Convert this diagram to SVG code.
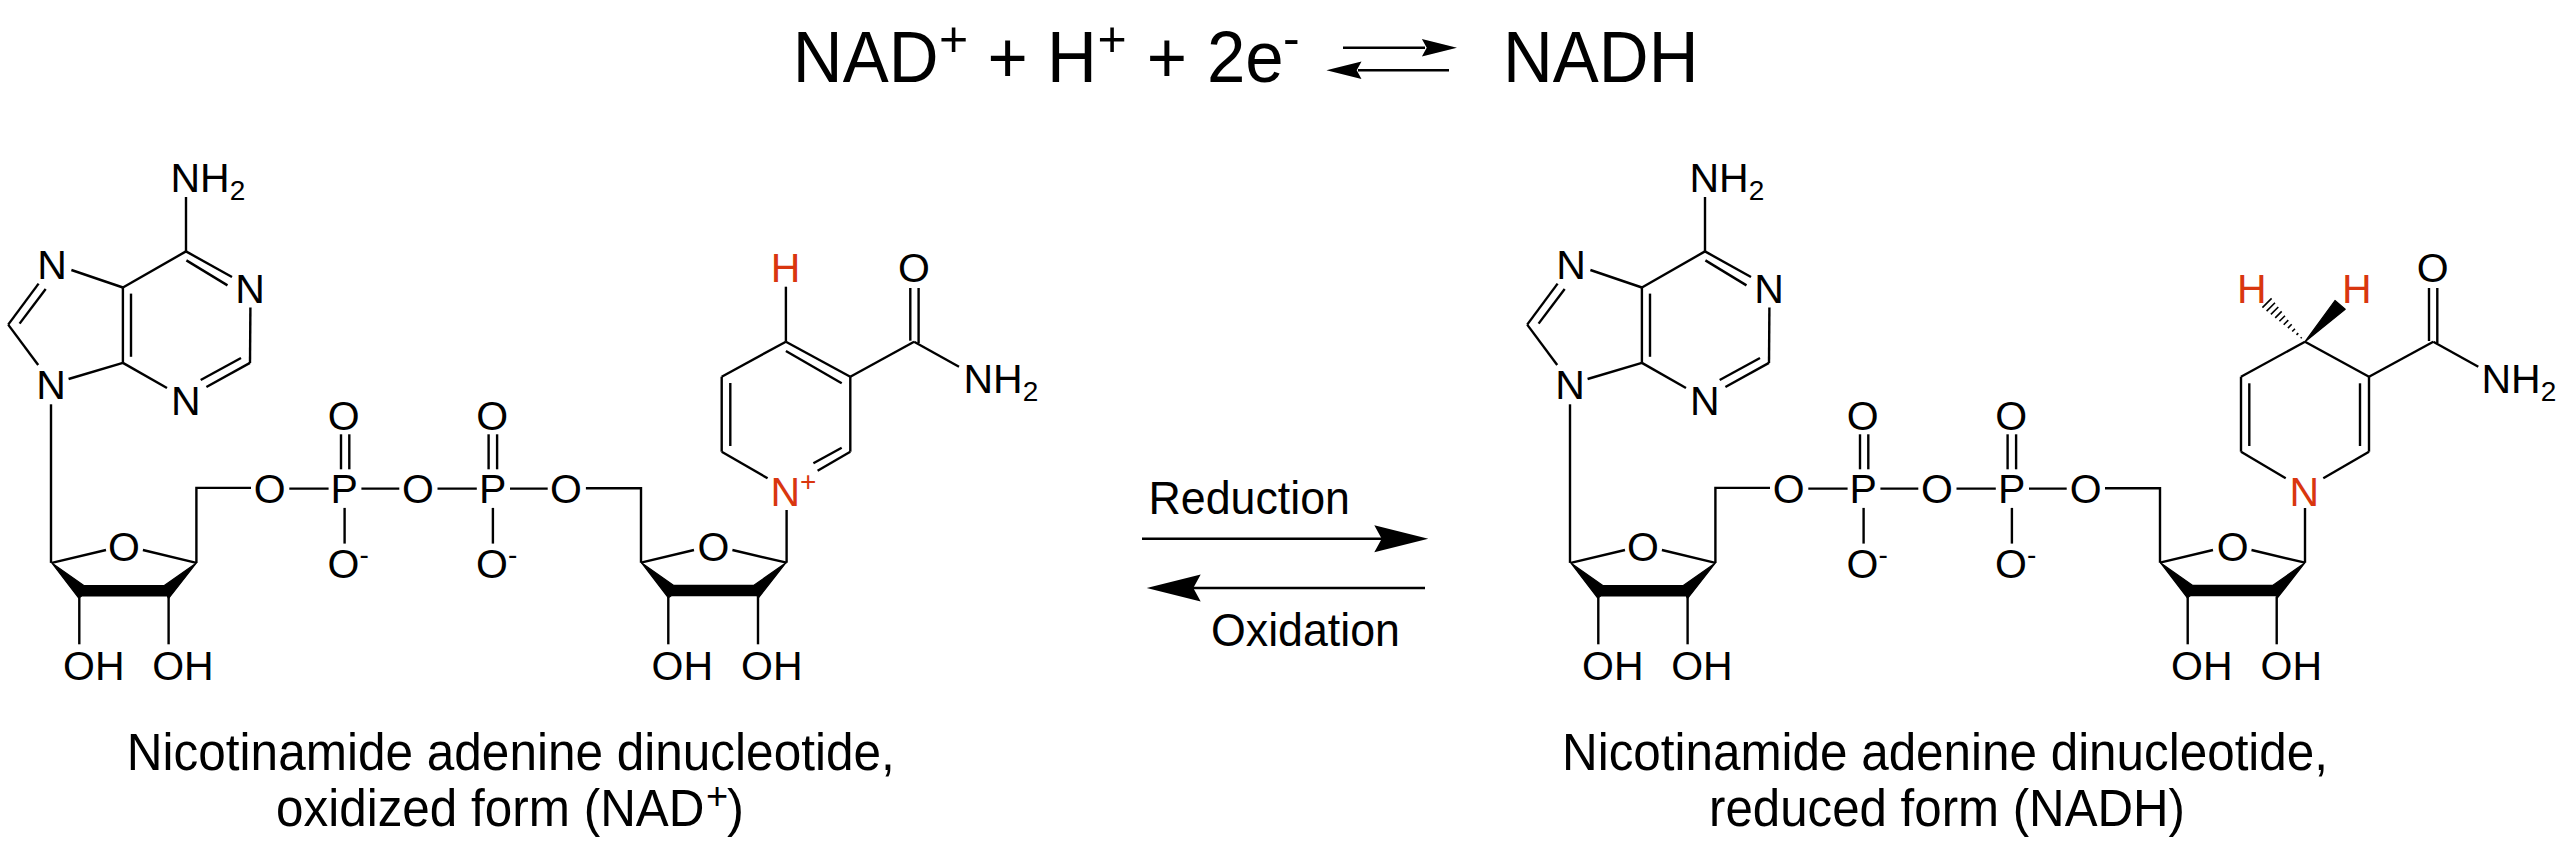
<svg xmlns="http://www.w3.org/2000/svg" width="2560" height="842" viewBox="0 0 2560 842">
<style>
text{font-family:"Liberation Sans",Arial,sans-serif;fill:#000}
.a{font-size:41px;text-anchor:middle}
.l{font-size:41px}
.s{font-size:28px}
.r{fill:#d9360f}
.c{font-size:51px}
.m{font-size:46px}
.e{font-size:72px}
.p{font-size:50px}
.b{fill:none;stroke:#000;stroke-width:2.4}
.h{fill:none;stroke:#000;stroke-width:1.6}
.f{fill:#000;stroke:#000;stroke-width:1.2;stroke-linejoin:round}
</style>
<defs>
<path id="ribose-front" d="M0 0L32 22.6H112.5L144.6 0L116.8 35.5L115.5 33H30L26.8 35Z"/>
<path id="head-right" d="M0 0L-54 -13.5L-46.6 0L-54 13.5Z"/>
</defs>
<rect width="2560" height="842" fill="#fff"/>

<g id="connectors">
<g id="nad-bonds" class="b">
<path d="M186 197V251.4"/><path d="M186 251.4L122.9 287.5"/><path d="M186 251.4L232 277"/><path d="M186.4 260.4L227.5 285.4"/>
<path d="M250.4 307.5L250 362.9"/><path d="M250 362.9L206.4 387"/><path d="M241 358L200.7 380"/><path d="M122.9 362.9L167 388"/>
<path d="M122.9 362.9L68.6 379"/><path d="M122.9 287.5L71.4 270"/><path d="M122.9 287.5V362.9"/><path d="M131 293.6V356.8"/>
<path d="M38.6 283.6L8.2 324.6"/><path d="M45.7 289L19.6 323.6"/><path d="M8.2 324.6L38.2 365"/><path d="M51 404.3V562.9"/>
<path d="M51.8 562.9L106 550"/><path d="M196.4 562.9L142.9 550"/><path d="M196.4 562.9V487.9H251"/>
<path d="M289.3 488.6H328.6"/><path d="M361.4 488.6H399.3"/><path d="M437.5 488.6H476.8"/><path d="M510 488.6H547.7"/>
<path d="M341 434.3V469.3"/><path d="M349.3 434.3V469.3"/><path d="M344.6 507.9V543.6"/>
<path d="M488.6 434.3V469.3"/><path d="M497.1 434.3V469.3"/><path d="M492.9 507.9V543.6"/>
<path d="M79.3 597V644.3"/><path d="M168.6 597V644.3"/>
<path d="M585.9 488.3H641V562.7"/><path d="M641 562.7L694 550"/><path d="M786.6 562.7L732.4 550"/><path d="M786.6 562.7V510"/>
<path d="M668.3 597V644.3"/><path d="M758 597V644.3"/>
<path d="M785.9 286.7V341.7"/><path d="M785.9 341.7L721.7 376.7"/><path d="M721.7 376.7V451.7"/><path d="M730.3 383V446"/><path d="M721.7 451.7L767.6 478.3"/>
<path d="M785.9 341.7L850.3 376.7"/><path d="M785.9 351L841.7 383.3"/><path d="M850.3 376.7V451.7"/><path d="M850.3 451.7L817.6 470.7"/><path d="M841.7 447.7L813.4 463.3"/>
<path d="M850.3 376.7L914.1 341.7"/><path d="M910.3 288V340.7"/><path d="M918.6 288V343"/><path d="M914.1 341.7L959 366.7"/>
</g>
<g id="nadh-bonds" class="b">
<path d="M1705 197V251.4"/><path d="M1705 251.4L1641.9 287.5"/><path d="M1705 251.4L1751 277"/><path d="M1705.4 260.4L1746.5 285.4"/>
<path d="M1769.4 307.5L1769 362.9"/><path d="M1769 362.9L1725.4 387"/><path d="M1760 358L1719.7 380"/><path d="M1641.9 362.9L1686 388"/>
<path d="M1641.9 362.9L1587.6 379"/><path d="M1641.9 287.5L1590.4 270"/><path d="M1641.9 287.5V362.9"/><path d="M1650 293.6V356.8"/>
<path d="M1557.6 283.6L1527.2 324.6"/><path d="M1564.7 289L1538.6 323.6"/><path d="M1527.2 324.6L1557.2 365"/><path d="M1570 404.3V562.9"/>
<path d="M1570.8 562.9L1625 550"/><path d="M1715.4 562.9L1661.9 550"/><path d="M1715.4 562.9V487.9H1770"/>
<path d="M1808.3 488.6H1847.6"/><path d="M1880.4 488.6H1918.3"/><path d="M1956.5 488.6H1995.8"/><path d="M2029 488.6H2066.7"/>
<path d="M1860 434.3V469.3"/><path d="M1868.3 434.3V469.3"/><path d="M1863.6 507.9V543.6"/>
<path d="M2007.6 434.3V469.3"/><path d="M2016.1 434.3V469.3"/><path d="M2011.9 507.9V543.6"/>
<path d="M1598.3 597V644.3"/><path d="M1687.6 597V644.3"/>
<path d="M2105 488.3H2160V562.7"/><path d="M2160 562.7L2213 550"/><path d="M2305 562.7L2251.5 550"/><path d="M2305 562.7V508"/>
<path d="M2187.7 597V644.3"/><path d="M2276.7 597V644.3"/>
<path d="M2305 341.7L2241 376.7"/><path d="M2241 376.7V451.7"/><path d="M2249.3 383.3V446"/><path d="M2241 451.7L2285.7 478.3"/>
<path d="M2305 341.7L2369 376.7"/><path d="M2369 376.7V451.7"/><path d="M2360 383.3V446"/><path d="M2369 451.7L2323.3 478.3"/>
<path d="M2369 376.7L2433.3 341.7"/><path d="M2429 288V341"/><path d="M2437.3 288V343"/><path d="M2433.3 341.7L2478.3 366.7"/>
</g>
<g id="nadh-stereo">
<polygon class="f" points="2305,341.7 2335,300.5 2345.2,309.3"/>
<path class="h" d="M2300.7 338.3L2301.7 337.3M2296.5 334.9L2298.3 333.1M2292.2 331.5L2295 328.7M2287.9 328.1L2291.7 324.3M2283.7 324.7L2288.3 320.1M2279.4 321.3L2285 315.7M2275.2 317.9L2281.7 311.4M2270.9 314.4L2278.3 307M2266.6 311.1L2275 302.7M2262.4 307.6L2271.6 298.4"/>
</g>
<g id="ribose-fronts" class="f">
<use href="#ribose-front" x="51.8" y="562.9"/>
<use href="#ribose-front" x="641.4" y="562.7"/>
<use href="#ribose-front" x="1570.8" y="562.9"/>
<use href="#ribose-front" x="2160.4" y="562.7"/>
</g>
<g id="reaction-arrows">
<path class="b" d="M1343 47.7H1425"/><use href="#head-right" transform="translate(1457 47.7) scale(.65)"/>
<path class="b" d="M1449 70.3H1358"/><use href="#head-right" transform="translate(1326.4 70.3) rotate(180) scale(.65)"/>
<path class="b" d="M1142 538.7H1384"/><use href="#head-right" transform="translate(1428.3 538.7)"/>
<path class="b" d="M1425 588H1192"/><use href="#head-right" transform="translate(1146.7 588) rotate(180)"/>
</g>
</g>

<g id="nad-atoms" transform="translate(0 .8)">
<g id="nad-nh2"><text class="l" x="170.5" y="191.4">NH<tspan class="s" dy="8.2">2</tspan></text></g>
<g id="nad-n7"><text class="a" x="52" y="278">N</text></g>
<g id="nad-n1"><text class="a" x="250" y="302.5">N</text></g>
<g id="nad-n3"><text class="a" x="185.7" y="414">N</text></g>
<g id="nad-n9"><text class="a" x="51" y="398.6">N</text></g>
<g id="nad-o1"><text class="a" x="124" y="560.4">O</text></g>
<g id="nad-o2"><text class="a" x="269.6" y="502.5">O</text></g>
<g id="nad-p1"><text class="a" x="344.3" y="502.5">P</text></g>
<g id="nad-o3"><text class="a" x="417.9" y="502.5">O</text></g>
<g id="nad-p2"><text class="a" x="492.6" y="502.5">P</text></g>
<g id="nad-o4"><text class="a" x="565.9" y="502.5">O</text></g>
<g id="nad-o5"><text class="a" x="343.6" y="429.3">O</text></g>
<g id="nad-o6"><text class="a" x="492.1" y="429.3">O</text></g>
<g id="nad-o7"><text class="l" x="327.6" y="577.4">O<tspan class="s" dy="-14">-</tspan></text></g>
<g id="nad-o8"><text class="l" x="476" y="577.4">O<tspan class="s" dy="-14">-</tspan></text></g>
<g id="nad-oh1"><text class="l" x="63" y="679">OH</text></g>
<g id="nad-oh2"><text class="l" x="152.2" y="679">OH</text></g>
<g id="nad-o9"><text class="a" x="713.4" y="560">O</text></g>
<g id="nad-oh3"><text class="l" x="651.5" y="679">OH</text></g>
<g id="nad-oh4"><text class="l" x="741" y="679">OH</text></g>
<g id="nad-h"><text class="a r" x="785.5" y="281.7">H</text></g>
<g id="nad-nplus"><text class="l r" x="770.5" y="505">N<tspan class="s" dy="-14.5">+</tspan></text></g>
<g id="nad-o10"><text class="a" x="914" y="281.7">O</text></g>
<g id="nad-nh2b"><text class="l" x="963.5" y="392.3">NH<tspan class="s" dy="8.2">2</tspan></text></g>
</g>

<g id="nadh-atoms" transform="translate(0 .8)">
<g id="nadh-nh2"><text class="l" x="1689.5" y="191.4">NH<tspan class="s" dy="8.2">2</tspan></text></g>
<g id="nadh-n7"><text class="a" x="1571" y="278">N</text></g>
<g id="nadh-n1"><text class="a" x="1769" y="302.5">N</text></g>
<g id="nadh-n3"><text class="a" x="1704.7" y="414">N</text></g>
<g id="nadh-n9"><text class="a" x="1570" y="398.6">N</text></g>
<g id="nadh-o1"><text class="a" x="1643" y="560.4">O</text></g>
<g id="nadh-o2"><text class="a" x="1788.6" y="502.5">O</text></g>
<g id="nadh-p1"><text class="a" x="1863.3" y="502.5">P</text></g>
<g id="nadh-o3"><text class="a" x="1936.9" y="502.5">O</text></g>
<g id="nadh-p2"><text class="a" x="2011.6" y="502.5">P</text></g>
<g id="nadh-o4"><text class="a" x="2085.7" y="502.5">O</text></g>
<g id="nadh-o5"><text class="a" x="1862.6" y="429.3">O</text></g>
<g id="nadh-o6"><text class="a" x="2011.1" y="429.3">O</text></g>
<g id="nadh-o7"><text class="l" x="1846.6" y="577.4">O<tspan class="s" dy="-14">-</tspan></text></g>
<g id="nadh-o8"><text class="l" x="1995" y="577.4">O<tspan class="s" dy="-14">-</tspan></text></g>
<g id="nadh-oh1"><text class="l" x="1582" y="679">OH</text></g>
<g id="nadh-oh2"><text class="l" x="1671.2" y="679">OH</text></g>
<g id="nadh-o9"><text class="a" x="2232.7" y="560">O</text></g>
<g id="nadh-oh3"><text class="l" x="2171" y="679">OH</text></g>
<g id="nadh-oh4"><text class="l" x="2260.5" y="679">OH</text></g>
<g id="nadh-h1"><text class="a r" x="2251.7" y="302.3">H</text></g>
<g id="nadh-h2"><text class="a r" x="2356.7" y="302.3">H</text></g>
<g id="nadh-n"><text class="a r" x="2304.3" y="505">N</text></g>
<g id="nadh-o10"><text class="a" x="2432.7" y="281.7">O</text></g>
<g id="nadh-nh2b"><text class="l" x="2481.5" y="392.3">NH<tspan class="s" dy="8.2">2</tspan></text></g>
</g>

<g id="equation">
<text class="e" x="792.8" y="82" textLength="145.7" lengthAdjust="spacingAndGlyphs">NAD</text>
<text class="p" x="939" y="55.7">+</text>
<text class="e" x="987.6" y="82" textLength="40.3" lengthAdjust="spacingAndGlyphs">+</text>
<text class="e" x="1047" y="82" textLength="49.8" lengthAdjust="spacingAndGlyphs">H</text>
<text class="p" x="1097.5" y="55.7">+</text>
<text class="e" x="1146.8" y="82" textLength="40.3" lengthAdjust="spacingAndGlyphs">+</text>
<text class="e" x="1206.9" y="82" textLength="76.7" lengthAdjust="spacingAndGlyphs">2e</text>
<text class="p" x="1283" y="55">-</text>
<text class="e" x="1503" y="82" textLength="195.5" lengthAdjust="spacingAndGlyphs">NADH</text>
</g>
<g id="reduction-label"><text class="m" x="1148.5" y="513.5" textLength="201.5" lengthAdjust="spacingAndGlyphs">Reduction</text></g>
<g id="oxidation-label"><text class="m" x="1211" y="645.5" textLength="189" lengthAdjust="spacingAndGlyphs">Oxidation</text></g>
<g id="nad-caption">
<text class="c" x="510.8" y="769.5" text-anchor="middle" textLength="768" lengthAdjust="spacingAndGlyphs">Nicotinamide adenine dinucleotide,</text>
<text class="c" x="276" y="826" textLength="428.5" lengthAdjust="spacingAndGlyphs">oxidized form (NAD</text>
<text x="706" y="809" font-size="38">+</text>
<text class="c" x="727" y="826">)</text>
</g>
<g id="nadh-caption">
<text class="c" x="1945" y="769.5" text-anchor="middle" textLength="766" lengthAdjust="spacingAndGlyphs">Nicotinamide adenine dinucleotide,</text>
<text class="c" x="1947" y="826" text-anchor="middle" textLength="476" lengthAdjust="spacingAndGlyphs">reduced form (NADH)</text>
</g>
</svg>
